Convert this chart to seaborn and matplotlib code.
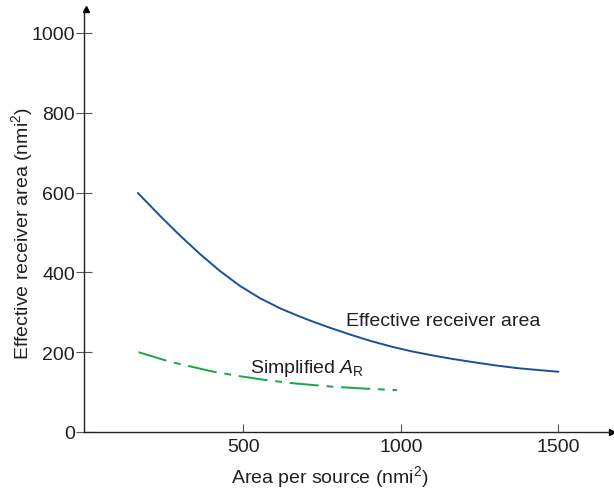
import matplotlib
matplotlib.use("Agg")
import matplotlib.pyplot as plt
import seaborn as sns
import pandas as pd

# --- DATA ---
effective_x = [166, 237, 300, 363, 427, 490, 554, 617, 665, 713, 776, 840, 905,
               970, 1035, 1100, 1165, 1230, 1300, 1370, 1440, 1500]
effective_y = [599, 541, 492, 446, 403, 366, 335, 310, 294, 279, 261, 244, 228,
               214, 202, 192, 183, 175, 167, 160, 155, 151]

simplified_x = [168, 268, 340, 406, 480, 564, 660, 776, 880, 988]
simplified_y = [200, 176, 163, 151, 141, 131, 122, 114, 109, 105]

x_ticks = [500, 1000, 1500]
y_ticks = [0, 200, 400, 600, 800, 1000]

BLUE = "#1a4f9f"
GREEN = "#19a64a"
TEXT = "#231f20"

sns.set_style("ticks")
plt.rcParams["font.family"] = ["Liberation Sans", "DejaVu Sans"]
plt.rcParams["mathtext.fontset"] = "custom"
plt.rcParams["mathtext.rm"] = "Liberation Sans"
plt.rcParams["mathtext.it"] = "Liberation Sans:italic"

df_eff = pd.DataFrame({"x": effective_x, "y": effective_y})
df_sim = pd.DataFrame({"x": simplified_x, "y": simplified_y})

fig = plt.figure(figsize=(6.14, 4.89), dpi=100)
ax = fig.add_axes([84 / 614, 56 / 489, 528 / 614, 423 / 489])

sns.lineplot(data=df_eff, x="x", y="y", ax=ax, color=BLUE, linewidth=1.4)
sns.lineplot(data=df_sim, x="x", y="y", ax=ax, color=GREEN, linewidth=1.4)
ax.lines[-1].set_linestyle((0, (15, 4, 3.5, 4)))

ax.set_xlim(-5, 1670)
ax.set_ylim(0, 1060)
ax.set_xticks(x_ticks)
ax.set_yticks(y_ticks)

for s in ["top", "right"]:
    ax.spines[s].set_visible(False)
for s in ["left", "bottom"]:
    ax.spines[s].set_color("#222222")
    ax.spines[s].set_linewidth(1.0)

ax.tick_params(axis="x", direction="in", length=6, width=0.8, pad=4,
               labelsize=14, colors="#555555", labelcolor=TEXT)
ax.tick_params(axis="y", direction="inout", length=11, width=0.8, pad=1,
               labelsize=14, colors="#555555", labelcolor=TEXT)

# arrow heads on the axes
ax.plot(1, 0, ">", color="black", markersize=5, transform=ax.get_yaxis_transform(), clip_on=False)
ax.plot(0, 1, "^", color="black", markersize=5, transform=ax.get_xaxis_transform(), clip_on=False)

ax.set_xlabel("Area per source (nmi$^\\mathregular{2}$)", fontsize=14, color=TEXT)
ax.set_ylabel("Effective receiver area (nmi$^\\mathregular{2}$)", fontsize=14, color=TEXT)
ax.xaxis.set_label_coords(0.466, -0.074)
ax.yaxis.set_label_coords(-0.092, 0.472)

ax.text(827, 268, "Effective receiver area", fontsize=14, color=TEXT, va="baseline")
ax.text(522, 150, "Simplified $\\mathit{A}_\\mathregular{R}$", fontsize=14, color=TEXT, va="baseline")

fig.savefig("out.png", dpi=100)
